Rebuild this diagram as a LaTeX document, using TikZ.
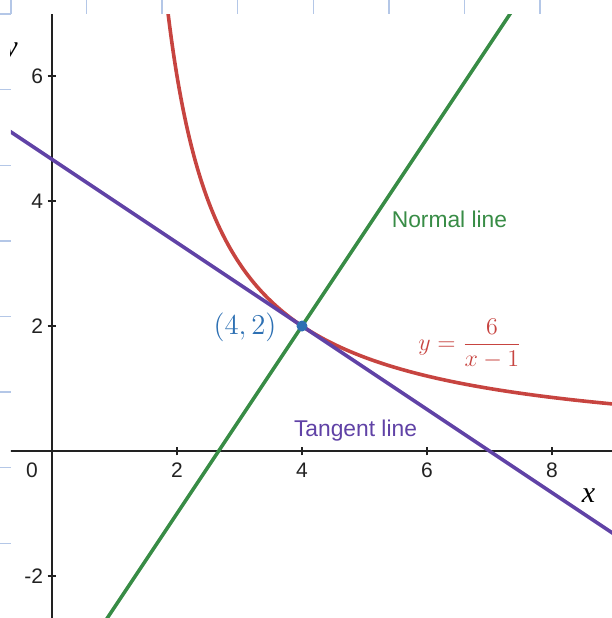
\documentclass[tikz,border=0pt]{standalone}
\usepackage{fontspec}
\newfontfamily\arialf{Liberation Sans}
\newfontfamily\timesf{Liberation Serif}
\definecolor{dred}{HTML}{C74440}
\definecolor{dgreen}{HTML}{388C46}
\definecolor{dpurple}{HTML}{6042A6}
\definecolor{dblue}{HTML}{2D70B3}
\definecolor{gridblue}{HTML}{B4C7E7}
\definecolor{axisc}{HTML}{222222}
\tikzset{
  gridmark/.style={draw=gridblue, line width=0.7pt},
  axisline/.style={draw=axisc, line width=1.2pt},
  tickmark/.style={draw=axisc, line width=0.9pt},
  curve/.style={line width=1.8pt, line cap=round},
  ticklab/.style={inner sep=0pt, font=\arialf\fontsize{10.5}{12}\selectfont, text=axisc},
  linelab/.style={inner sep=0pt, font=\arialf\fontsize{11.4}{13}\selectfont},
}
\begin{document}
\begin{tikzpicture}[x=31.25pt,y=31.25pt]
\useasboundingbox (-0.832,-2.672) rectangle (8.96,7.216);
% background grid marks at top and left edges
\foreach \k in {0,...,7}{
  \draw[gridmark] ({(11+75.6*\k-52)/62.5},7.216) -- ++(0,-0.224);
  \draw[gridmark] (-0.832,{(451-14-75.6*\k)/62.5}) -- ++(0.176,0);
}
\begin{scope}
\clip (-0.656,-2.672) rectangle (8.96,6.992);
% axes
\draw[axisline] (-0.7,0) -- (9,0);
\draw[axisline] (0,-2.8) -- (0,7.1);
\foreach \t in {2,4,6,8}{
  \draw[tickmark] (\t,-0.07) -- (\t,0.07);
  \node[ticklab, anchor=base] at (\t,-0.416) {\t};
}
\node[ticklab, anchor=base] at (-0.32,-0.416) {0};
\foreach \t in {2,4,6}{
  \draw[tickmark] (-0.07,\t) -- (0.07,\t);
  \node[ticklab, anchor=base east] at (-0.136,{\t-0.12}) {\t};
}
\draw[tickmark] (-0.07,-2) -- (0.07,-2);
\node[ticklab, anchor=base east] at (-0.136,-2.12) {-2};
% axis labels
\node[inner sep=0pt, anchor=center, font=\timesf\itshape\fontsize{15}{18}\selectfont] (xl) at (8.584,-0.712) {x};
\node[inner sep=0pt, anchor=base east, font=\timesf\itshape\fontsize{15}{18}\selectfont] (yl) at (-0.544,6.312) {y};
% curves
\draw[curve, dred, domain=1.84:8.96, samples=200, smooth] plot (\x,{6/(\x-1)});
\draw[curve, dgreen] (0.8,-2.8) -- (7.4,7.1);
\draw[curve, dpurple] (-0.7,{14/3+0.7*2/3}) -- (9,{14/3-6});
% point
\fill[dblue] (4,2) circle (0.088);
\coordinate (P) at (4,2);
% labels
\node[inner sep=0pt, text=dblue, font=\fontsize{15}{18}\selectfont] (plab) at (3.088,1.984) {$(4,2)$};
\node[inner sep=0pt, anchor=base, text=dred, font=\fontsize{12.5}{15}\selectfont] (flab) at (6.688,1.608) {$y=\displaystyle\frac{6}{x-1}$};
\node[linelab, anchor=base, text=dgreen] (nlab) at (6.36,3.584) {Normal line};
\node[linelab, anchor=base, text=dpurple] (tlab) at (4.856,0.24) {Tangent line};
\end{scope}
\end{tikzpicture}
\end{document}
